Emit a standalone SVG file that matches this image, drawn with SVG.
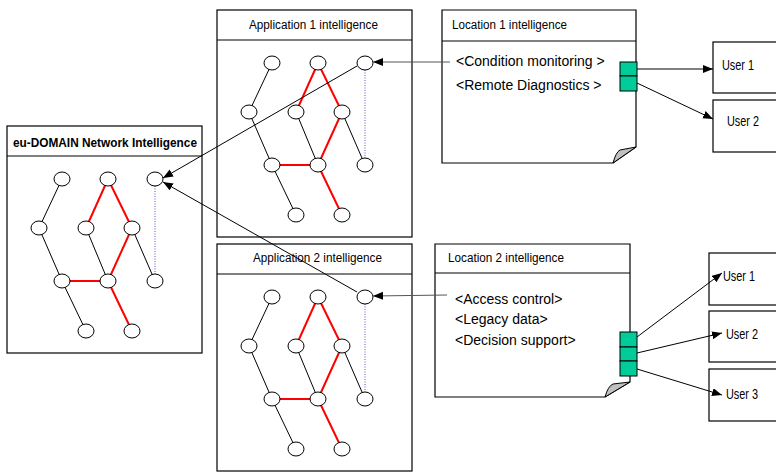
<svg xmlns="http://www.w3.org/2000/svg" xmlns:xlink="http://www.w3.org/1999/xlink" width="776" height="473" viewBox="0 0 776 473">
<style>
.box{fill:#fff;stroke:#000;stroke-width:1.2}
.sep{stroke:#000;stroke-width:1.2}
.e{stroke:#000;stroke-width:1;fill:none}
.r{stroke:#ff0000;stroke-width:2;fill:none}
.d{stroke:#5555cc;stroke-width:1;stroke-dasharray:1,1.5;fill:none}
.n{fill:#fff;stroke:#000;stroke-width:1}
.t{font-family:"Liberation Sans",Arial,sans-serif;font-size:12.5px;fill:#000}
.tb{font-family:"Liberation Sans",Arial,sans-serif;font-size:12.3px;font-weight:bold;fill:#000}
.it{font-family:"Liberation Sans",Arial,sans-serif;font-size:14px;fill:#000}
.u{font-family:"Liberation Sans",Arial,sans-serif;font-size:14px;fill:#000}
.g{fill:#00cc99;stroke:#000;stroke-width:1}
.curl{fill:#c0c0c0;stroke:#000;stroke-width:1}
.c{stroke:#000;stroke-width:1;fill:none}
.cg{stroke:#555;stroke-width:1;fill:none}
</style>
<defs>
<marker id="ah" markerUnits="userSpaceOnUse" markerWidth="11" markerHeight="9" refX="10" refY="4" orient="auto">
<path d="M0,0 L10,4 L0,8 Z" fill="#000"/>
</marker>
<g id="net">
<rect class="box" x="0" y="0" width="195" height="227"/>
<line class="sep" x1="0" y1="30" x2="195" y2="30"/>
<line class="e" x1="55" y1="53" x2="32" y2="102"/>
<line class="r" x1="101" y1="53" x2="79" y2="102"/>
<line class="r" x1="101" y1="53" x2="125" y2="102"/>
<line class="e" x1="32" y1="102" x2="55" y2="155"/>
<line class="e" x1="79" y1="102" x2="101" y2="155"/>
<line class="r" x1="125" y1="102" x2="101" y2="155"/>
<line class="e" x1="125" y1="102" x2="148" y2="155"/>
<line class="r" x1="55" y1="155" x2="101" y2="155"/>
<line class="e" x1="55" y1="155" x2="79" y2="205"/>
<line class="r" x1="101" y1="155" x2="125" y2="205"/>
<line class="d" x1="148" y1="60" x2="148" y2="148"/>
<ellipse class="n" cx="55" cy="53" rx="8" ry="7"/>
<ellipse class="n" cx="101" cy="53" rx="8" ry="7"/>
<ellipse class="n" cx="148" cy="53" rx="8" ry="7"/>
<ellipse class="n" cx="32" cy="102" rx="8" ry="7"/>
<ellipse class="n" cx="79" cy="102" rx="8" ry="7"/>
<ellipse class="n" cx="125" cy="102" rx="8" ry="7"/>
<ellipse class="n" cx="55" cy="155" rx="8" ry="7"/>
<ellipse class="n" cx="101" cy="155" rx="8" ry="7"/>
<ellipse class="n" cx="148" cy="155" rx="8" ry="7"/>
<ellipse class="n" cx="79" cy="205" rx="8" ry="7"/>
<ellipse class="n" cx="125" cy="205" rx="8" ry="7"/>
</g>
</defs>
<rect x="0" y="0" width="776" height="473" fill="#fff"/>

<g id="network-intelligence">
<use xlink:href="#net" href="#net" transform="translate(7,126)"/>
<text class="tb" x="13" y="147" textLength="184" lengthAdjust="spacingAndGlyphs">eu-DOMAIN Network Intelligence</text>
</g>

<g id="application-1">
<use xlink:href="#net" href="#net" transform="translate(217,10)"/>
<text class="t" x="249" y="29" textLength="129" lengthAdjust="spacingAndGlyphs">Application 1 intelligence</text>
</g>

<g id="application-2">
<use xlink:href="#net" href="#net" transform="translate(217,244)"/>
<text class="t" x="253" y="262" textLength="129" lengthAdjust="spacingAndGlyphs">Application 2 intelligence</text>
</g>

<g id="location-1">
<path class="box" d="M442,10 H636 V147 L613,163 H442 Z"/>
<line class="sep" x1="442" y1="41" x2="636" y2="41"/>
<path class="curl" d="M613,163 Q616,152 620,150 L636,147 Z"/>
<text class="t" x="452" y="29" textLength="115" lengthAdjust="spacingAndGlyphs">Location 1 intelligence</text>
<text class="it" x="456" y="66">&lt;Condition monitoring &gt;</text>
<text class="it" x="456" y="90">&lt;Remote Diagnostics &gt;</text>
<rect class="g" x="620" y="62" width="17" height="14"/>
<rect class="g" x="620" y="76" width="17" height="15"/>
</g>

<g id="location-2">
<path class="box" d="M435,244 H630 V382 L605,397 H435 Z"/>
<line class="sep" x1="435" y1="273" x2="630" y2="273"/>
<path class="curl" d="M605,397 Q608,386 613,384 L630,382 Z"/>
<text class="t" x="448" y="262" textLength="116" lengthAdjust="spacingAndGlyphs">Location 2 intelligence</text>
<text class="it" x="455" y="304">&lt;Access control&gt;</text>
<text class="it" x="455" y="324">&lt;Legacy data&gt;</text>
<text class="it" x="455" y="345">&lt;Decision support&gt;</text>
<rect class="g" x="620" y="332" width="17" height="15"/>
<rect class="g" x="620" y="347" width="17" height="14"/>
<rect class="g" x="620" y="361" width="17" height="15"/>
</g>

<g id="l1-user-1">
<rect class="box" x="713" y="42" width="70" height="51"/>
<text class="u" x="722" y="70" textLength="32" lengthAdjust="spacingAndGlyphs">User 1</text>
</g>
<g id="l1-user-2">
<rect class="box" x="713" y="100" width="70" height="52"/>
<text class="u" x="727" y="126" textLength="32" lengthAdjust="spacingAndGlyphs">User 2</text>
</g>
<g id="l2-user-1">
<rect class="box" x="709" y="253" width="74" height="52"/>
<text class="u" x="723" y="281" textLength="32" lengthAdjust="spacingAndGlyphs">User 1</text>
</g>
<g id="l2-user-2">
<rect class="box" x="709" y="311" width="74" height="51"/>
<text class="u" x="726" y="339" textLength="32" lengthAdjust="spacingAndGlyphs">User 2</text>
</g>
<g id="l2-user-3">
<rect class="box" x="709" y="369" width="74" height="52"/>
<text class="u" x="726" y="399" textLength="32" lengthAdjust="spacingAndGlyphs">User 3</text>
</g>

<g id="connectors">
<line class="cg" x1="450" y1="62" x2="373" y2="62" marker-end="url(#ah)"/>
<line class="c" x1="357" y1="66" x2="163" y2="178" marker-end="url(#ah)"/>
<line class="c" x1="357" y1="292" x2="163" y2="182" marker-end="url(#ah)"/>
<line class="cg" x1="447" y1="295" x2="373" y2="296" marker-end="url(#ah)"/>
<line class="c" x1="637" y1="69" x2="713" y2="69" marker-end="url(#ah)"/>
<line class="c" x1="637" y1="83" x2="713" y2="119" marker-end="url(#ah)"/>
<line class="c" x1="637" y1="337" x2="722" y2="273" marker-end="url(#ah)"/>
<line class="c" x1="637" y1="353" x2="722" y2="333" marker-end="url(#ah)"/>
<line class="c" x1="637" y1="369" x2="722" y2="395" marker-end="url(#ah)"/>
</g>
</svg>
